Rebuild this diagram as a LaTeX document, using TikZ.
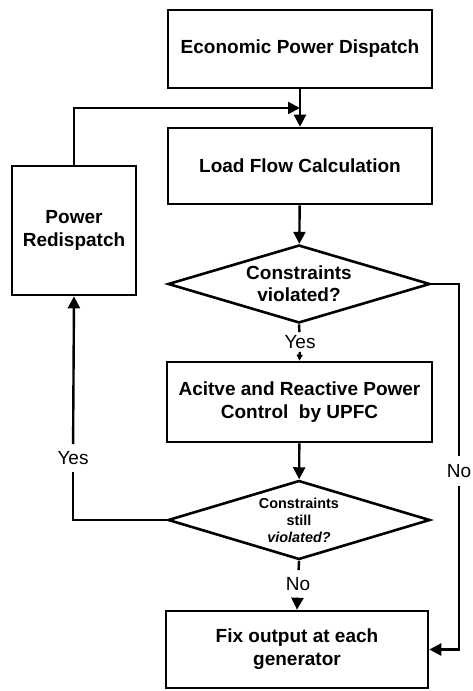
\documentclass[tikz,border=0pt]{standalone}
\usepackage{fontspec}
\setmainfont{Liberation Sans}
\usetikzlibrary{arrows.meta,shapes.geometric}
\begin{document}
\begin{tikzpicture}[x=1pt,y=-1pt,
  box/.style={draw,line width=2.6pt,inner sep=0pt,align=center,font=\bfseries\fontsize{19}{23}\selectfont},
  dec/.style={draw,diamond,aspect=3.36,line width=2.6pt,inner sep=0pt,align=center},
  lab/.style={font=\fontsize{19}{23}\selectfont,inner xsep=1pt},
  conn/.style={line width=2.4pt},
  arr/.style={conn,-{Triangle[length=12pt,width=12pt]}},
  smallarr/.style={conn,-{Triangle[length=6pt,width=6pt]}},
]
\useasboundingbox (0,0) rectangle (472,691);
% boxes
\node[box,minimum width=264pt,minimum height=78pt] (epd) at (300,49) {Economic Power Dispatch};
\node[box,minimum width=264pt,minimum height=76pt] (lfc) at (300,166) {Load Flow Calculation};
\node[box,minimum width=124pt,minimum height=129pt] (pr) at (74,230.5) {Power\\Redispatch};
\node[dec,minimum width=262pt,minimum height=78pt,font=\bfseries\fontsize{19}{22}\selectfont] (d1) at (299,284) {Constraints\\violated?};
\node[box,minimum width=265pt,minimum height=80pt] (ctrl) at (299.5,402) {Acitve and Reactive Power\\Control\ \ by UPFC};
\node[dec,minimum width=262pt,minimum height=79pt,font=\bfseries\fontsize{14.4}{17}\selectfont] (d2) at (299,520) {Constraints\\still\\\textit{violated?}};
\node[box,minimum width=262pt,minimum height=77pt] (fix) at (297,649.5) {Fix output at each\\generator};
% labels
\node[lab,inner ysep=3pt] (yes1) at (300,342) {Yes};
\node[lab,inner ysep=7pt] (yes2) at (73,458) {Yes};
\node[lab,inner ysep=8pt] (no1) at (459,471) {No};
\node[lab,inner ysep=7pt] (no2) at (298,584) {No};
\coordinate (merge) at (300,108);
% connectors
\draw[arr] (epd) -- (lfc);
\draw[arr] (pr.north) |- (merge);
\draw[arr] (lfc) -- (d1);
\draw[conn] (d1.south) -- (yes1);
\draw[smallarr] (yes1) -- (ctrl.north);
\draw[arr] (ctrl) -- (d2);
\draw[conn] (d2.west) -| (yes2);
\draw[arr] (yes2) -- (pr.south);
\draw[conn] (d2.south) -- (no2);
\draw[arr] (no2) -- (fix.north);
\draw[conn] (d1.east) -| (no1);
\draw[arr] (no1) |- (fix.east);
\end{tikzpicture}
\end{document}
